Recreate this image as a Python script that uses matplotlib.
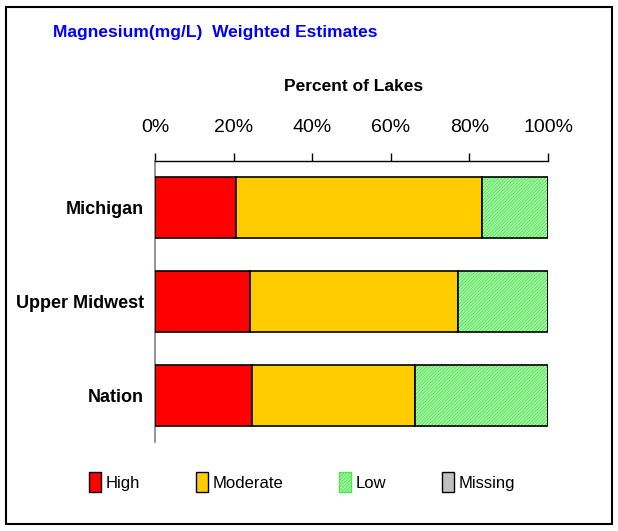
import matplotlib
matplotlib.use("Agg")
import matplotlib.pyplot as plt
from matplotlib.patches import Rectangle, Patch
from matplotlib import font_manager

names = {f.name for f in font_manager.fontManager.ttflist}
FAM = [n for n in ["Liberation Sans Narrow", "Liberation Sans", "DejaVu Sans"] if n in names]
plt.rcParams['font.family'] = FAM

categories = ["Michigan", "Upper Midwest", "Nation"]
high = [20.6, 24.1, 24.8]
moderate = [62.5, 53.1, 41.4]
low = [16.9, 22.8, 33.8]
missing = [0.0, 0.0, 0.0]
xticks = [0, 20, 40, 60, 80, 100]
xtick_labels = ["0%", "20%", "40%", "60%", "80%", "100%"]
series_names = ["High", "Moderate", "Low", "Missing"]

W, H = 618, 531
fig = plt.figure(figsize=(W/100, H/100), dpi=100)
ax = fig.add_axes([155/W, 1-442/H, (548-155)/W, (442-161)/H])

LOWFACE = "#d8ffd8"
LOWHATCH = "#44ee44"

y = list(range(len(categories)))
bh = 0.65
left = [0]*3
ax.barh(y, high, left=left, height=bh, color="#ff0000", edgecolor="black", linewidth=1.2, zorder=3)
left = [a+b for a, b in zip(left, high)]
ax.barh(y, moderate, left=left, height=bh, color="#ffcc00", edgecolor="black", linewidth=1.2, zorder=3)
left = [a+b for a, b in zip(left, moderate)]
plt.rcParams['hatch.linewidth'] = 0.9
ax.barh(y, low, left=left, height=bh, color=LOWFACE, edgecolor=LOWHATCH, hatch="//////////", linewidth=0, zorder=3)
ax.barh(y, low, left=left, height=bh, color="none", edgecolor="black", linewidth=1.2, zorder=4)
left = [a+b for a, b in zip(left, low)]
ax.barh(y, missing, left=left, height=bh, color="#c0c0c0", edgecolor="black", linewidth=1.2, zorder=3)

ax.set_xlim(0, 100)
ax.set_ylim(2.5, -0.5)
ax.xaxis.tick_top()
ax.set_xticks(xticks)
ax.set_xticklabels(xtick_labels, fontsize=14)
ax.tick_params(axis='x', direction='out', length=6, width=1, pad=12, colors='black')
ax.set_yticks(y)
ax.set_yticklabels(categories, fontsize=13, fontweight='bold')
ax.tick_params(axis='y', length=0, pad=8)
for s in ['right', 'bottom']:
    ax.spines[s].set_visible(False)
ax.spines['top'].set_linewidth(1)
ax.spines['left'].set_color('#808080')
ax.spines['left'].set_linewidth(1.2)

fig.text(354/W, 1-87/H, "Percent of Lakes", ha='center', va='center', fontsize=12.5, fontweight='bold')
fig.text(53/W, 1-33/H, "Magnesium(mg/L)  Weighted Estimates", ha='left', va='center',
         fontsize=12.5, fontweight='bold', color='#0000ff')

handles = [Patch(facecolor="#ff0000", edgecolor="black"),
           Patch(facecolor="#ffcc00", edgecolor="black"),
           Patch(facecolor=LOWFACE, edgecolor=LOWHATCH, hatch="//////////"),
           Patch(facecolor="#c0c0c0", edgecolor="black")]
leg = fig.legend(handles, series_names, loc='center left', bbox_to_anchor=(89/W, 1-482/H), ncol=4,
                 frameon=False, fontsize=12, handlelength=0.7, handleheight=1.4,
                 handletextpad=0.3, columnspacing=3.35, borderaxespad=0, borderpad=0)

fig.patches.append(Rectangle((6/W, 1-524/H), (612-6)/W, (524-7)/H, transform=fig.transFigure,
                             fill=False, edgecolor='black', linewidth=1.5))
fig.savefig("out.png", dpi=100)
